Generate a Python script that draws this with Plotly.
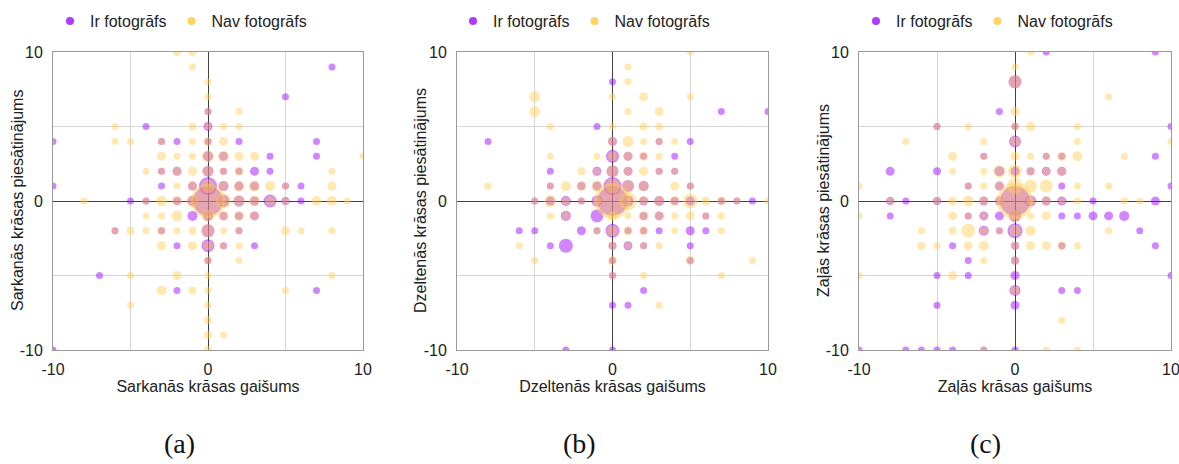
import plotly.graph_objects as go

# Labels
series_names = ["Ir fotogrāfs", "Nav fotogrāfs"]
x_titles = ["Sarkanās krāsas gaišums", "Dzeltenās krāsas gaišums", "Zaļās krāsas gaišums"]
y_titles = ["Sarkanās krāsas piesātinājums", "Dzeltenās krāsas piesātinājums", "Zaļās krāsas piesātinājums"]
panel_labels = ["(a)", "(b)", "(c)"]
tick_vals = [-10, -5, 0, 5, 10]
tick_text = ["-10", "", "0", "", "10"]

# Each point: (gaišums, piesātinājums, skaits)
ir_red = [
    (8, 9, 1), (5, 7, 1), (0, 6, 1),
    (-4, 5, 1), (0, 5, 3),
    (-10, 4, 1), (-3, 4, 1), (-2, 4, 1), (0, 4, 1), (2, 4, 1), (7, 4, 1),
    (0, 3, 4), (1, 3, 3), (4, 3, 1), (7, 3, 1),
    (-3, 2, 1), (-2, 2, 3), (0, 2, 5), (1, 2, 1), (2, 2, 1), (3, 2, 3), (4, 2, 1),
    (-10, 1, 1), (-3, 1, 1), (-1, 1, 3), (0, 1, 12), (1, 1, 4), (2, 1, 3), (3, 1, 3), (5, 1, 1), (6, 1, 1),
    (-5, 0, 1), (-4, 0, 1), (-2, 0, 2), (-1, 0, 4), (0, 0, 24), (1, 0, 6), (2, 0, 5), (3, 0, 3),
    (4, 0, 7), (5, 0, 2), (6, 0, 1),
    (-1, -1, 4), (0, -1, 4), (1, -1, 2), (2, -1, 2), (3, -1, 3),
    (-6, -2, 1), (-3, -2, 1), (0, -2, 7), (2, -2, 1),
    (-2, -3, 1), (0, -3, 7), (1, -3, 1), (3, -3, 1),
    (0, -4, 1), (-7, -5, 1), (-2, -6, 1), (7, -6, 1), (-10, -10, 1),
]
nav_red = [
    (-2, 10, 2), (-1, 10, 2), (-1, 9, 1), (0, 8, 1), (0, 7, 1), (0, 6, 1), (2, 6, 1),
    (-6, 5, 1), (-1, 5, 2), (0, 5, 1), (1, 5, 1), (2, 5, 1),
    (-6, 4, 1), (-5, 4, 1), (-3, 4, 1), (-1, 4, 1), (0, 4, 3), (1, 4, 3),
    (-3, 3, 3), (-2, 3, 1), (-1, 3, 1), (0, 3, 6), (1, 3, 5), (2, 3, 3), (3, 3, 3), (10, 3, 1),
    (-4, 2, 1), (-3, 2, 1), (-2, 2, 3), (-1, 2, 3), (0, 2, 5), (1, 2, 1), (2, 2, 3), (8, 2, 1),
    (-2, 1, 1), (-1, 1, 3), (0, 1, 8), (1, 1, 4), (2, 1, 5), (3, 1, 5), (4, 1, 4), (5, 1, 1), (8, 1, 3),
    (-8, 0, 1), (-4, 0, 1), (-3, 0, 5), (-2, 0, 4), (-1, 0, 6), (0, 0, 28), (1, 0, 9), (2, 0, 5),
    (3, 0, 5), (4, 0, 4), (5, 0, 1), (7, 0, 4), (8, 0, 4), (9, 0, 1),
    (-4, -1, 1), (-3, -1, 1), (-2, -1, 5), (0, -1, 6), (1, -1, 4), (2, -1, 4), (3, -1, 3),
    (-6, -2, 1), (-5, -2, 2), (-4, -2, 1), (-3, -2, 2), (-2, -2, 1), (-1, -2, 2), (0, -2, 7),
    (1, -2, 1), (2, -2, 1), (5, -2, 3), (6, -2, 1), (8, -2, 1),
    (-3, -3, 3), (-1, -3, 3), (0, -3, 4), (1, -3, 1), (2, -3, 1),
    (0, -4, 2), (2, -4, 1),
    (-5, -5, 1), (-2, -5, 3), (0, -5, 1), (8, -5, 1),
    (-3, -6, 4), (-1, -6, 2), (0, -6, 1), (5, -6, 1),
    (-5, -7, 1), (0, -7, 1), (0, -8, 2), (0, -9, 2), (1, -9, 1), (0, -10, 2),
]

ir_yellow = [
    (0, 8, 1), (7, 6, 1), (10, 6, 1), (-1, 5, 1),
    (-8, 4, 1), (0, 4, 3), (3, 4, 1), (5, 4, 1),
    (0, 3, 7), (1, 3, 3), (2, 3, 1), (4, 3, 1),
    (-4, 2, 1), (-1, 2, 3), (0, 2, 6), (1, 2, 3), (3, 2, 1), (4, 2, 1),
    (-4, 1, 1), (-2, 1, 2), (-1, 1, 3), (0, 1, 12), (1, 1, 6), (2, 1, 4), (5, 1, 1),
    (-5, 0, 1), (-4, 0, 3), (-3, 0, 4), (-2, 0, 1), (-1, 0, 5), (0, 0, 24), (1, 0, 5), (2, 0, 3),
    (3, 0, 4), (4, 0, 2), (5, 0, 3), (7, 0, 1), (8, 0, 1), (9, 0, 1),
    (-3, -1, 4), (-1, -1, 7), (2, -1, 2), (3, -1, 3), (6, -1, 1),
    (-6, -2, 1), (-5, -2, 1), (-2, -2, 3), (-1, -2, 1), (0, -2, 8), (1, -2, 1), (2, -2, 1),
    (3, -2, 1), (5, -2, 3), (6, -2, 1),
    (-4, -3, 1), (-3, -3, 8), (0, -3, 2), (1, -3, 3), (2, -3, 1), (5, -3, 1),
    (0, -4, 1), (5, -4, 1), (0, -5, 1), (2, -6, 1),
    (0, -7, 1), (1, -7, 1), (-3, -10, 1), (0, -10, 1),
]
nav_yellow = [
    (5, 10, 1), (1, 9, 1), (1, 8, 1),
    (-5, 7, 5), (0, 7, 1), (2, 7, 3), (5, 7, 1),
    (-5, 6, 5), (1, 6, 1), (3, 6, 3),
    (-4, 5, 1), (0, 5, 1), (2, 5, 2), (3, 5, 2),
    (0, 4, 3), (1, 4, 5), (2, 4, 1), (3, 4, 1), (4, 4, 1),
    (-4, 3, 1), (-1, 3, 1), (0, 3, 4), (1, 3, 3), (2, 3, 3), (3, 3, 1),
    (-2, 2, 2), (-1, 2, 1), (0, 2, 6), (1, 2, 3), (2, 2, 3), (3, 2, 1), (4, 2, 1),
    (-8, 1, 1), (-4, 1, 1), (-3, 1, 4), (-2, 1, 4), (-1, 1, 5), (0, 1, 9), (1, 1, 6), (2, 1, 4),
    (4, 1, 3), (5, 1, 1),
    (-5, 0, 1), (-4, 0, 6), (-3, 0, 2), (-2, 0, 1), (-1, 0, 3), (0, 0, 30), (1, 0, 12), (2, 0, 3),
    (3, 0, 4), (4, 0, 4), (5, 0, 9), (6, 0, 3), (7, 0, 3), (8, 0, 1), (10, 0, 1),
    (-4, -1, 1), (-3, -1, 2), (0, -1, 4), (1, -1, 1), (2, -1, 4), (3, -1, 3), (4, -1, 1),
    (5, -1, 3), (6, -1, 1), (7, -1, 1),
    (-1, -2, 1), (0, -2, 5), (1, -2, 3), (2, -2, 3), (4, -2, 1), (7, -2, 1),
    (-6, -3, 1), (0, -3, 2), (1, -3, 1), (2, -3, 1), (3, -3, 1),
    (-5, -4, 1), (0, -4, 3), (5, -4, 3), (9, -4, 1),
    (0, -5, 1), (2, -5, 1), (7, -5, 1), (3, -7, 1),
]

ir_green = [
    (2, 10, 1), (9, 10, 1), (0, 8, 7), (-1, 6, 1),
    (-5, 5, 1), (0, 5, 1), (10, 5, 1),
    (0, 4, 6),
    (-2, 3, 1), (2, 3, 1), (3, 3, 1), (9, 3, 1),
    (-8, 2, 3), (-5, 2, 2), (-1, 2, 4), (0, 2, 3), (1, 2, 2), (2, 2, 3), (3, 2, 3),
    (-3, 1, 1), (-1, 1, 3), (3, 1, 1), (10, 1, 1),
    (-8, 0, 2), (-7, 0, 1), (-5, 0, 2), (-2, 0, 3), (-1, 0, 3), (0, 0, 24), (1, 0, 5), (2, 0, 3),
    (3, 0, 3), (5, 0, 1), (9, 0, 3),
    (-8, -1, 1), (-3, -1, 1), (-2, -1, 3), (-1, -1, 3), (0, -1, 6), (3, -1, 1), (4, -1, 1),
    (5, -1, 3), (6, -1, 3), (7, -1, 4),
    (-2, -2, 4), (-1, -2, 1), (0, -2, 9), (8, -2, 1),
    (-4, -3, 1), (0, -3, 2), (3, -3, 1), (9, -3, 1),
    (-3, -4, 1), (0, -4, 2),
    (-5, -5, 1), (-3, -5, 1), (0, -5, 3), (10, -5, 1),
    (0, -6, 5), (3, -6, 1), (4, -6, 1),
    (-5, -7, 1), (0, -7, 3),
    (-10, -10, 1), (-7, -10, 1), (-6, -10, 1), (-5, -10, 1), (-4, -10, 1), (-2, -10, 1), (0, -10, 1),
]
nav_green = [
    (1, 10, 1), (0, 9, 1), (0, 8, 7), (6, 7, 1), (0, 6, 3),
    (-5, 5, 1), (-3, 5, 1), (0, 5, 2), (1, 5, 3), (4, 5, 1),
    (-7, 4, 1), (-2, 4, 1), (0, 4, 4), (4, 4, 1), (10, 4, 1),
    (-4, 3, 3), (-2, 3, 1), (0, 3, 3), (1, 3, 1), (2, 3, 1), (3, 3, 3), (4, 3, 4), (7, 3, 1),
    (-4, 2, 1), (-2, 2, 1), (-1, 2, 6), (0, 2, 8), (1, 2, 2), (2, 2, 2), (3, 2, 2),
    (-10, 1, 1), (-3, 1, 1), (-2, 1, 1), (-1, 1, 3), (0, 1, 10), (1, 1, 7), (2, 1, 7), (4, 1, 1), (6, 1, 1),
    (-8, 0, 1), (-5, 0, 1), (-4, 0, 3), (-3, 0, 5), (-2, 0, 3), (-1, 0, 3), (0, 0, 30), (1, 0, 3),
    (2, 0, 3), (3, 0, 1), (4, 0, 1), (7, 0, 1), (8, 0, 1),
    (-10, -1, 1), (-4, -1, 3), (-3, -1, 1), (-2, -1, 1), (0, -1, 6), (1, -1, 1), (2, -1, 3),
    (-6, -2, 1), (-4, -2, 2), (-3, -2, 8), (-2, -2, 2), (-1, -2, 1), (0, -2, 6), (1, -2, 4), (6, -2, 1),
    (-6, -3, 2), (-5, -3, 1), (-3, -3, 3), (-2, -3, 4), (0, -3, 2), (1, -3, 3), (2, -3, 3),
    (3, -3, 3), (4, -3, 1),
    (-2, -4, 1), (0, -4, 2),
    (-10, -5, 1), (-4, -5, 3), (0, -6, 3), (3, -8, 1),
    (-2, -10, 1), (2, -10, 1), (4, -10, 1),
]

panels = [(ir_red, nav_red), (ir_yellow, nav_yellow), (ir_green, nav_green)]

FONT = "Liberation Sans, Arial, sans-serif"
TEXT = "#222222"
FS = 16
bubble_colors = ["rgba(153,0,255,0.68)", "rgba(255,206,74,0.63)"]
legend_colors = ["rgb(170,60,255)", "rgb(255,212,100)"]

W, H = 1179, 464
x_domains = [(53, 363), (457, 768), (859, 1171)]
legend_x = [181, 584, 987]
ytitle_x = [17, 420, 823]
label_x = [179, 579, 985]
plot_top, plot_bottom = 52, 350


def bubble_px(n):
    return 6 + n


fig = go.Figure()

for i, (ir, nav) in enumerate(panels):
    suffix = "" if i == 0 else str(i + 1)
    for j, pts in enumerate((ir, nav)):
        fig.add_trace(go.Scatter(
            x=[p[0] for p in pts],
            y=[p[1] for p in pts],
            mode="markers",
            name=series_names[j],
            marker=dict(size=[bubble_px(p[2]) for p in pts], color=bubble_colors[j],
                        line=dict(width=0)),
            xaxis="x" + suffix, yaxis="y" + suffix,
            showlegend=False,
        ))
    for j in range(2):
        fig.add_trace(go.Scatter(
            x=[None], y=[None], mode="markers", name=series_names[j],
            marker=dict(size=8, color=legend_colors[j]),
            xaxis="x" + suffix, yaxis="y" + suffix,
            legend="legend" + suffix,
        ))

    x0, x1 = x_domains[i]
    axis_common = dict(
        range=[-10, 10], tickvals=tick_vals, ticktext=tick_text,
        showgrid=True, gridcolor="#d6d6d6", gridwidth=1,
        zeroline=True, zerolinecolor="#404040", zerolinewidth=1,
        showline=True, mirror=True, linecolor="#9a9a9a", linewidth=1,
        ticks="", tickfont=dict(family=FONT, size=FS, color=TEXT),
        automargin=False, fixedrange=True, ticklabeloverflow="allow",
    )
    fig.layout["xaxis" + suffix] = dict(
        axis_common, domain=[x0 / W, x1 / W], anchor="y" + suffix,
        ticklabelstandoff=5,
        title=dict(text=x_titles[i], font=dict(family=FONT, size=FS, color=TEXT), standoff=3),
    )
    fig.layout["yaxis" + suffix] = dict(
        axis_common, domain=[1 - plot_bottom / H, 1 - plot_top / H], anchor="x" + suffix,
        ticklabelstandoff=6,
    )
    fig.add_annotation(
        text=y_titles[i], textangle=-90, x=ytitle_x[i] / W, y=1 - (plot_top + plot_bottom) / 2 / H,
        xref="paper", yref="paper", showarrow=False, xanchor="center", yanchor="middle",
        font=dict(family=FONT, size=FS, color=TEXT),
    )
    fig.layout["legend" + suffix] = dict(
        orientation="h", x=legend_x[i] / W, xanchor="center", y=1 - 21 / H, yanchor="middle",
        font=dict(family=FONT, size=FS, color=TEXT), bgcolor="rgba(0,0,0,0)",
        itemwidth=30, tracegroupgap=0,
    )
    fig.add_annotation(
        text=panel_labels[i], x=label_x[i] / W, y=1 - 443 / H, xref="paper", yref="paper",
        showarrow=False, xanchor="center", yanchor="middle",
        font=dict(family="Liberation Serif, Times New Roman, serif", size=28, color="#111111"),
    )

fig.update_layout(
    width=W, height=H, margin=dict(l=0, r=0, t=0, b=0),
    paper_bgcolor="white", plot_bgcolor="white",
)

fig.write_html("out.html")
